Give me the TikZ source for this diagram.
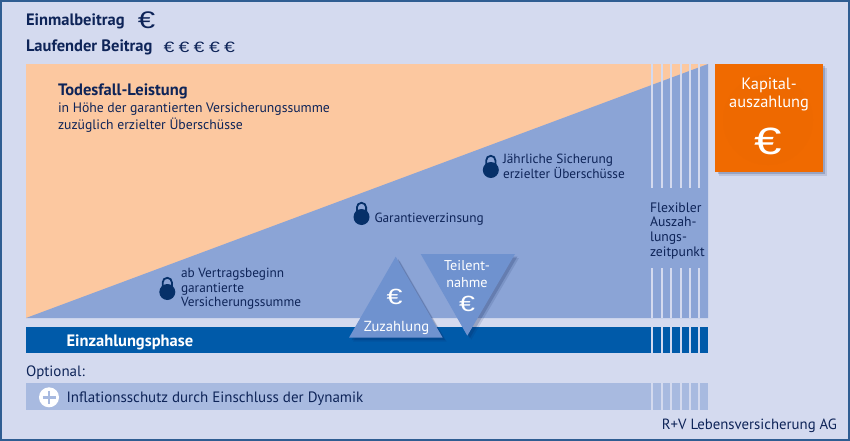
\documentclass[tikz,border=0pt]{standalone}
\usepackage{fontspec}
\setmainfont{PT Sans}
\newfontfamily\eurofont{Liberation Sans}
\usetikzlibrary{shadows, positioning}
\definecolor{pagebg}{HTML}{D4DAEF}
\definecolor{frameblue}{HTML}{2F5D92}
\definecolor{peach}{HTML}{FCC8A0}
\definecolor{midblue}{HTML}{8BA4D6}
\definecolor{barblue}{HTML}{005AA9}
\definecolor{optblue}{HTML}{A8BAE0}
\definecolor{triblue}{HTML}{6F92CF}
\definecolor{navy}{HTML}{0E2458}
\definecolor{lockblue}{HTML}{063069}
\definecolor{kapital}{HTML}{F06A00}
\newcommand{\fsize}[1]{\fontsize{#1}{14.6}\selectfont}
\newcommand{\euroglyph}{\scalebox{1.3}[1]{€}}
\tikzstyle{softshadow} = [general shadow={shadow xshift=4pt, shadow yshift=-4pt, fill=navy, opacity=0.12},
general shadow={shadow xshift=2.5pt, shadow yshift=-2.5pt, fill=navy, opacity=0.2}]
\tikzstyle{txt} = [inner sep=0pt, outer sep=0pt, align=left, text=navy, font=\fsize{13.3}]
\tikzstyle{boldtxt} = [txt, font=\fsize{16.5}\bfseries]
\tikzstyle{whitetxt} = [inner sep=0pt, outer sep=0pt, align=center, text=white, font=\fsize{14.6}]
\tikzstyle{eurosign} = [inner sep=0pt, outer sep=0pt]
\tikzstyle{lockbody} = [circle, fill=lockblue, minimum size=16pt, inner sep=0pt]
\tikzstyle{shackle} = [draw=lockblue, line width=1.8pt]
\tikzstyle{stripe} = [draw=pagebg, line width=2pt]
\begin{document}
\begin{tikzpicture}[x=1pt, y=-1pt]
            \useasboundingbox (0,0) rectangle (850,441);
            % Ground
            \draw[fill=pagebg, draw=frameblue, line width=2pt] (1,1) rectangle (849,440);
            \fill[peach] (26,64) rectangle (708,318);
            \fill[midblue] (26,318) -- (708,64) -- (708,318) -- cycle;
            \fill[barblue] (26,327) rectangle (708,353);
            \fill[optblue] (26,383) rectangle (708,410);
            % Stripes
            \foreach \x in {652.3,661.7,671,680.7,690,699.3}
                \foreach \ya/\yb in {64/187.5,268/318,327/353,383/410}
                    \draw[stripe] (\x,\ya) -- (\x,\yb);
            % Head lines
            \node[boldtxt, anchor=west] (einmal) at (26,21) {Einmalbeitrag};
            \node[eurosign, text=navy, font=\eurofont\fsize{24}] (einmaleuro) at (146.5,20) {\euroglyph};
            \node[boldtxt, anchor=west] (laufend) at (26,47.5) {Laufender Beitrag};
            \foreach \x [count=\i] in {169,184,199,214.5,229.5}
                \node[eurosign, text=navy, font=\eurofont\fsize{15}] (euro\i) at (\x,47) {\euroglyph};
            % Death benefit
            \node[txt, anchor=west, font=\fsize{16.5}\bfseries] (todesfall) at (58,91) {Todesfall-Leistung};
            \node[txt, anchor=north west, font=\fontsize{13.7}{17}\selectfont] (hoehe) at (58,102.5) {in Höhe der garantierten Versicherungssumme\\zuzüglich erzielter Überschüsse};
            % Locks
            \node[lockbody] (lockone) at (167.3,292) {};
            \node[lockbody] (locktwo) at (361.5,217) {};
            \node[lockbody] (lockthree) at (490.8,170) {};
            \foreach \l in {lockone,locktwo,lockthree}
                \draw[shackle] (\l.center) ++(-4.6,-4) -- ++(0,-5.6) arc[start angle=180, end angle=360, radius=4.6] -- ++(0,5.6);
            \node[txt, anchor=west] (abvertrag) at (181,289) {ab Vertragsbeginn\\garantierte\\Versicherungssumme};
            \node[txt, anchor=west] (garantie) at (374.5,219) {Garantieverzinsung};
            \node[txt, anchor=west] (sicherung) at (503,166.5) {Jährliche Sicherung\\erzielter Überschüsse};
            % Flexible date
            \node[txt, anchor=north west, font=\fsize{13.7}] (flexibel) at (650,202.5) {Flexibler\\Auszah-\\lungs-\\zeitpunkt};
            % Payout
            \fill[kapital, softshadow] (715,64) rectangle (822.7,171.7);
            \fill[black!1!kapital] (768,120) circle (45);
            \node[whitetxt, font=\fontsize{16.4}{18}\selectfont] (kapitaltxt) at (769,94) {Kapital-\\auszahlung};
            \node[eurosign, text=white, font=\eurofont\fsize{38}] (kapitaleuro) at (768,141) {\euroglyph};
            % Triangles
            \fill[triblue, softshadow] (395.7,256.7) -- (442.7,337.7) -- (349,337.7) -- cycle;
            \fill[triblue, softshadow] (420.7,254) -- (515,254) -- (467.3,335.7) -- cycle;
            \node[eurosign, text=white, font=\eurofont\fsize{22}] (zueuro) at (394.5,297) {\euroglyph};
            \node[whitetxt] (zuzahlung) at (396.5,327.5) {Zuzahlung};
            \node[whitetxt, font=\fontsize{14.2}{16.5}\selectfont] (teilnahme) at (467,274) {Teilent-\\nahme};
            \node[eurosign, text=white, font=\eurofont\fsize{22}] (teileuro) at (467,304) {\euroglyph};
            % Bars
            \node[whitetxt, anchor=west, font=\fsize{16.5}\bfseries] (einzahlung) at (66.5,342) {Einzahlungsphase};
            \node[txt, anchor=west, font=\fsize{15}] (optional) at (26,372.5) {Optional:};
            \node[circle, fill=white, minimum size=20pt, inner sep=0pt] (plus) at (49,397.3) {};
            \draw[draw=optblue, line width=2.6pt] (42.5,397.3) -- (55.5,397.3);
            \draw[draw=optblue, line width=2.6pt] (49,390.8) -- (49,403.8);
            \node[txt, anchor=west, font=\fsize{15}] (inflation) at (66.5,398.3) {Inflationsschutz durch Einschluss der Dynamik};
            \node[txt, anchor=east, font=\fsize{14.8}] (ruv) at (837,425.5) {R+V Lebensversicherung AG};
\end{tikzpicture}
\end{document}
